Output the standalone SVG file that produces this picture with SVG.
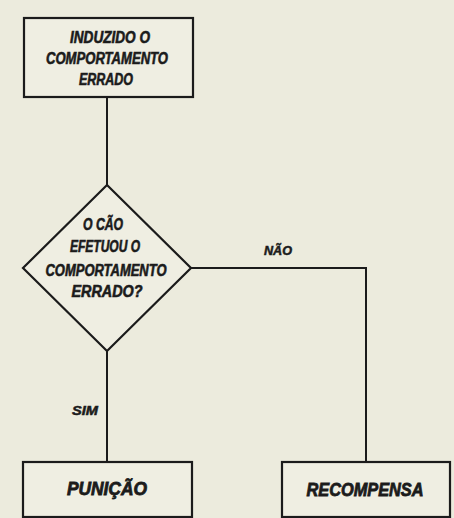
<svg xmlns="http://www.w3.org/2000/svg" width="454" height="518" viewBox="0 0 454 518">
<style>
.bg{fill:#ecebdd}
.box{fill:#efeee2;stroke:#1b1b1b;stroke-width:2.2}
.ln{fill:none;stroke:#1b1b1b;stroke-width:2}
text{font-family:"Liberation Sans",Arial,sans-serif;font-weight:bold;font-style:italic;fill:#1b1b1b;stroke:#1b1b1b;stroke-width:0.6;text-anchor:middle}
.t{font-size:16px}
.b{font-size:18px;stroke-width:0.8}
.s{font-size:12px;stroke-width:0.5}
</style>
<rect class="bg" x="0" y="0" width="454" height="518"/>
<g id="connectors">
<line class="ln" x1="107" y1="97" x2="107" y2="185"/>
<polyline class="ln" points="191,268 366,268 366,462"/>
<line class="ln" x1="107" y1="351" x2="107" y2="462"/>
<text class="s" x="278" y="255" textLength="28" lengthAdjust="spacingAndGlyphs">NÃO</text>
<text class="s" x="85" y="415" textLength="26" lengthAdjust="spacingAndGlyphs">SIM</text>
</g>
<g id="inicio">
<rect class="box" x="24" y="18" width="169" height="79"/>
<text class="t" x="110" y="43" textLength="80" lengthAdjust="spacingAndGlyphs">INDUZIDO O</text>
<text class="t" x="107" y="64" textLength="122" lengthAdjust="spacingAndGlyphs">COMPORTAMENTO</text>
<text class="t" x="106" y="85" textLength="54" lengthAdjust="spacingAndGlyphs">ERRADO</text>
</g>
<g id="decisao">
<polygon class="box" points="107,185 191,268 107,351 23,268"/>
<text class="t" x="103" y="230" textLength="40" lengthAdjust="spacingAndGlyphs">O CÃO</text>
<text class="t" x="105" y="252" textLength="70" lengthAdjust="spacingAndGlyphs">EFETUOU O</text>
<text class="t" x="106" y="276" textLength="121" lengthAdjust="spacingAndGlyphs">COMPORTAMENTO</text>
<text class="t" x="107" y="297" textLength="71" lengthAdjust="spacingAndGlyphs">ERRADO?</text>
</g>
<g id="punicao">
<rect class="box" x="23" y="462" width="169" height="55"/>
<text class="b" x="107" y="495" textLength="80" lengthAdjust="spacingAndGlyphs">PUNIÇÃO</text>
</g>
<g id="recompensa">
<rect class="box" x="282" y="462" width="168" height="55"/>
<text class="b" x="365" y="496" textLength="117" lengthAdjust="spacingAndGlyphs">RECOMPENSA</text>
</g>
</svg>
